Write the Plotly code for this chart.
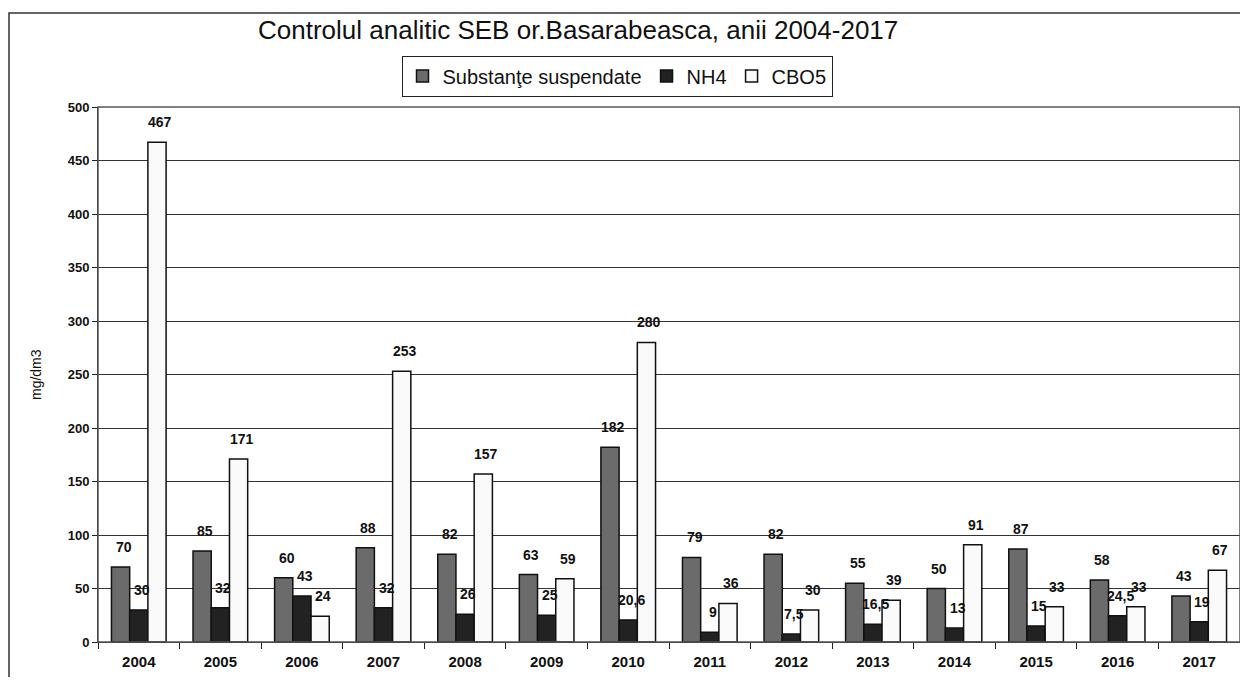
import plotly.graph_objects as go

years = ["2004", "2005", "2006", "2007", "2008", "2009", "2010",
         "2011", "2012", "2013", "2014", "2015", "2016", "2017"]
substante = [70, 85, 60, 88, 82, 63, 182, 79, 82, 55, 50, 87, 58, 43]
nh4 = [30, 32, 43, 32, 26, 25, 20.6, 9, 7.5, 16.5, 13, 15, 24.5, 19]
cbo5 = [467, 171, 24, 253, 157, 59, 280, 36, 30, 39, 91, 33, 33, 67]
y_ticks = [0, 50, 100, 150, 200, 250, 300, 350, 400, 450, 500]


def lab(vals):
    return [(f"{v:g}").replace(".", ",") for v in vals]


FONT = "Liberation Sans, Arial, sans-serif"
lab_font = dict(family=FONT, size=14, color="#111111", weight="bold")

series = [
    ("Substanţe suspendate", substante, "#6b6b6b"),
    ("NH4", nh4, "#222222"),
    ("CBO5", cbo5, "#fafafa"),
]

fig = go.Figure()
for name, vals, col in series:
    fig.add_trace(go.Bar(name=name, x=years, y=vals,
                         marker=dict(color=col, line=dict(color="#111111", width=1.5))))

# page has an 8px body margin; figure sized to fit the window without scrollbars
OFF = 8
W, H = 1232, 669
L, R, T, B = 90, 0, 99, 35
pw, ph = W - L - R, H - T - B
BARGAP = 0.33
bar_px = pw / len(years) * (1 - BARGAP) / 3


def px(sx):
    return (sx - OFF - L) / pw


def py(sy):
    return (H - B - (sy - OFF)) / ph


annotations = [
    dict(text="Controlul analitic SEB or.Basarabeasca, anii 2004-2017",
         x=px(578), y=py(30), xref="paper", yref="paper", showarrow=False,
         xanchor="center", yanchor="middle",
         font=dict(family=FONT, size=26, color="#111111")),
    dict(text="mg/dm3", x=px(36), y=py(375), xref="paper", yref="paper",
         showarrow=False, textangle=-90, xanchor="center", yanchor="middle",
         font=dict(family=FONT, size=14, color="#111111")),
]
for i, (name, vals, col) in enumerate(series):
    for j, (v, t) in enumerate(zip(vals, lab(vals))):
        annotations.append(dict(text=t, x=j, y=v, xref="x", yref="y", showarrow=False,
                                xanchor="center", yanchor="bottom",
                                xshift=(i - 1) * bar_px + 3, yshift=10,
                                font=lab_font))

fig.update_layout(
    width=W, height=H,
    margin=dict(l=L, r=R, t=T, b=B, autoexpand=False),
    paper_bgcolor="white", plot_bgcolor="white",
    barmode="group", bargap=BARGAP, bargroupgap=0,
    font=dict(family=FONT, color="#111111"),
    showlegend=True,
    legend=dict(orientation="h", x=px(617), y=py(76), xanchor="center", yanchor="middle",
                bordercolor="#222222", borderwidth=1, bgcolor="white",
                font=dict(family=FONT, size=20), itemwidth=30,
                traceorder="normal"),
    xaxis=dict(type="category", categoryorder="array", categoryarray=years,
               range=[-0.5, len(years) - 0.5],
               showline=True, linecolor="#222222", linewidth=1,
               ticks="outside", tickson="boundaries", ticklen=6, tickcolor="#222222",
               tickfont=dict(family=FONT, size=15, color="#111111", weight="bold"),
               ticklabelstandoff=6,
               mirror=False, showgrid=False, automargin=False),
    yaxis=dict(range=[0, 500], tickvals=y_ticks, showline=True, linecolor="#222222",
               linewidth=1, ticks="outside", ticklen=5, tickcolor="#222222",
               showgrid=True, gridcolor="#333333", gridwidth=1, automargin=False,
               tickfont=dict(family=FONT, size=13, color="#111111", weight="bold"),
               zeroline=False),
    annotations=annotations,
    shapes=[
        dict(type="rect", xref="paper", yref="paper", x0=0, x1=1, y0=0, y1=1,
             line=dict(color="#555555", width=1.5)),
        dict(type="rect", xref="paper", yref="paper", x0=px(9), x1=px(1260),
             y0=py(720), y1=py(13), line=dict(color="#333333", width=1.5)),
    ],
)

fig.write_html("out.html")
